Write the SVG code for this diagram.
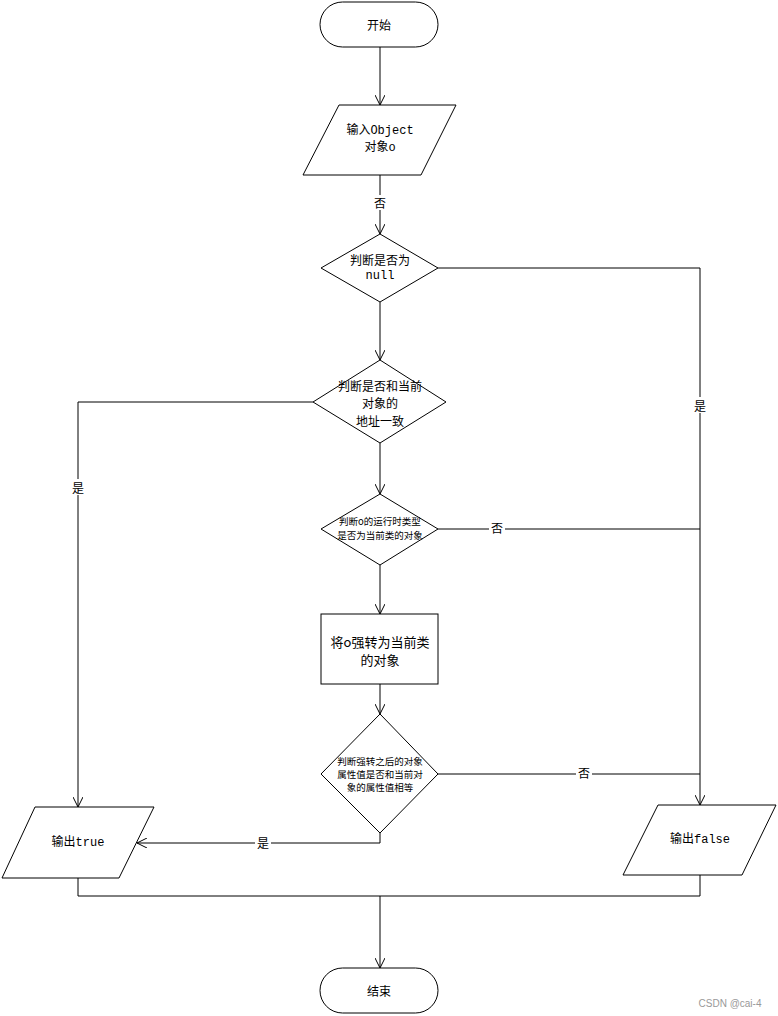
<svg xmlns="http://www.w3.org/2000/svg" width="778" height="1016" viewBox="0 0 778 1016">
<style>
.s{fill:#fff;stroke:#000;stroke-width:1}
.c{fill:none;stroke:#000;stroke-width:1}
.t{font-family:"Liberation Mono","Noto Sans CJK SC",monospace;font-size:12px;fill:#000;text-anchor:middle;dominant-baseline:central}
.k{font-family:"Noto Sans CJK SC",sans-serif;font-size:12px;fill:#000;text-anchor:middle;dominant-baseline:central}
.sm{font-family:"Noto Sans CJK SC",sans-serif;font-size:9.5px;fill:#000;text-anchor:middle;dominant-baseline:central}
.lb{font-family:"Noto Sans CJK SC",sans-serif;font-size:12px;fill:#000;text-anchor:middle;dominant-baseline:central}
</style>
<defs>
<marker id="a" viewBox="0 0 10 10" refX="10" refY="5" markerWidth="10" markerHeight="10" markerUnits="userSpaceOnUse" orient="auto">
<path d="M0,0 L10,5 L0,10" fill="none" stroke="#000" stroke-width="1"/>
</marker>
</defs>
<rect width="778" height="1016" fill="#fff"/>
<g id="connectors">
<line class="c" x1="380" y1="47" x2="380" y2="105" marker-end="url(#a)"/>
<line class="c" x1="380" y1="175" x2="380" y2="234" marker-end="url(#a)"/>
<line class="c" x1="380" y1="302" x2="380" y2="360" marker-end="url(#a)"/>
<polyline class="c" points="438,268 700,268 700,805" marker-end="url(#a)"/>
<polyline class="c" points="313,402 78,402 78,807" marker-end="url(#a)"/>
<line class="c" x1="380" y1="443" x2="380" y2="494" marker-end="url(#a)"/>
<line class="c" x1="438" y1="529" x2="700" y2="529"/>
<line class="c" x1="380" y1="565" x2="380" y2="614" marker-end="url(#a)"/>
<line class="c" x1="380" y1="684" x2="380" y2="714" marker-end="url(#a)"/>
<line class="c" x1="438" y1="774" x2="700" y2="774"/>
<polyline class="c" points="380,833 380,843 137,843" marker-end="url(#a)"/>
<polyline class="c" points="78,878 78,896 700,896 700,875"/>
<line class="c" x1="380" y1="896" x2="380" y2="968" marker-end="url(#a)"/>
<rect x="372" y="195" width="16" height="15" fill="#fff"/>
<text class="lb" x="380" y="202">否</text>
<rect x="692" y="397" width="16" height="16" fill="#fff"/>
<text class="lb" x="700" y="405">是</text>
<rect x="70" y="479" width="16" height="16" fill="#fff"/>
<text class="lb" x="78" y="487">是</text>
<rect x="489" y="520" width="16" height="16" fill="#fff"/>
<text class="lb" x="497" y="527">否</text>
<rect x="576" y="765" width="16" height="16" fill="#fff"/>
<text class="lb" x="584" y="772">否</text>
<rect x="255" y="835" width="16" height="16" fill="#fff"/>
<text class="lb" x="263" y="842">是</text>
</g>
<g id="start">
<rect class="s" x="320" y="2" width="118" height="45" rx="22.5"/>
<text class="k" x="379" y="24">开始</text>
</g>
<g id="input">
<polygon class="s" points="339,105 456,105 421,175 303,175"/>
<text class="t" x="380" y="131">输入Object</text>
<text class="t" x="380" y="148">对象o</text>
</g>
<g id="d1">
<polygon class="s" points="380,234 438,268 380,302 321,268"/>
<text class="k" x="380" y="259">判断是否为</text>
<text class="t" x="380" y="276">null</text>
</g>
<g id="d2">
<polygon class="s" points="380,360 446,402 380,443 313,402"/>
<text class="k" x="380" y="385">判断是否和当前</text>
<text class="k" x="380" y="402">对象的</text>
<text class="k" x="380" y="420">地址一致</text>
</g>
<g id="d3">
<polygon class="s" points="380,494 438,529 380,565 321,529"/>
<text class="sm" x="380" y="521">判断o的运行时类型</text>
<text class="sm" x="380" y="535">是否为当前类的对象</text>
</g>
<g id="cast">
<rect class="s" x="321" y="614" width="117" height="70"/>
<text class="k" x="380" y="641" style="font-size:13px">将o强转为当前类</text>
<text class="k" x="380" y="659" style="font-size:13px">的对象</text>
</g>
<g id="d4">
<polygon class="s" points="380,714 438,774 380,833 321,774"/>
<text class="sm" x="380" y="761">判断强转之后的对象</text>
<text class="sm" x="380" y="774">属性值是否和当前对</text>
<text class="sm" x="380" y="787">象的属性值相等</text>
</g>
<g id="outTrue">
<polygon class="s" points="35,807 154,807 119,878 2,878"/>
<text class="t" x="78" y="843">输出true</text>
</g>
<g id="outFalse">
<polygon class="s" points="658,805 776,805 742,875 623,875"/>
<text class="t" x="700" y="840">输出false</text>
</g>
<g id="end">
<rect class="s" x="320" y="968" width="118" height="45" rx="22.5"/>
<text class="k" x="379" y="990">结束</text>
</g>
<text x="730" y="1003" style="font-family:'Liberation Sans',sans-serif;font-size:10px;fill:#999;text-anchor:middle;dominant-baseline:central">CSDN @cai-4</text>
</svg>
